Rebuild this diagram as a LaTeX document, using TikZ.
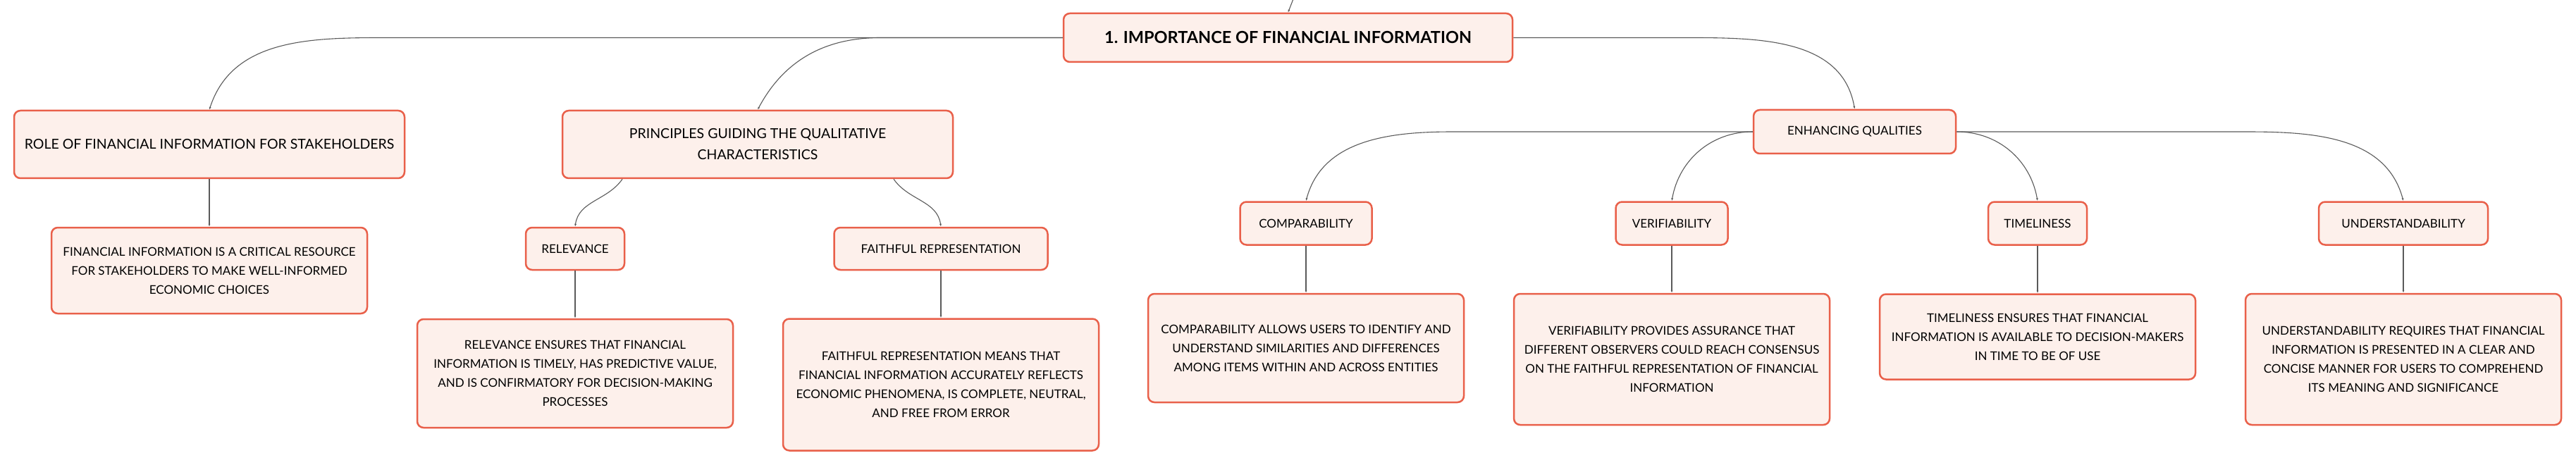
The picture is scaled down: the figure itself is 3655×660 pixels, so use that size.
\documentclass[tikz,border=0pt]{standalone}
\usepackage{fontspec}
\setmainfont{Lato}
\usetikzlibrary{arrows.meta}
\definecolor{boxline}{HTML}{E9604A}
\definecolor{boxfill}{HTML}{FDF0EB}
\definecolor{linkgray}{HTML}{5A5A5A}
\tikzset{
  topic/.style={draw=boxline, fill=boxfill, line width=2.5pt,
    rounded corners=9pt, align=center, inner sep=0pt,
    font=\fontsize{17}{27}\selectfont},
  bigtopic/.style={font=\fontsize{19.5}{30}\selectfont},
  roottopic/.style={font=\fontsize{23.5}{28}\selectfont\bfseries},
  link/.style={draw=linkgray, line width=1.1pt,
    -{Latex[length=4pt,width=3pt]}}
}
\newcommand{\topicBox}[7][]{ \node[topic, #1, minimum width=#5,
    minimum height=#6] (#2) at (#3,#4) {#7}; }

\begin{document}
\begin{tikzpicture}[x=1pt,y=-1pt]
  \useasboundingbox (0,0) rectangle (3655,660);
  % main topic
  \topicBox[roottopic]{root}{1827.5}{53.5}{637}{69}{1. IMPORTANCE OF FINANCIAL INFORMATION}
  % first branch
  \topicBox[bigtopic]{role}{297}{205}{554}{96}{ROLE OF FINANCIAL INFORMATION FOR STAKEHOLDERS}
  \topicBox{roleDesc}{297}{384}{448}{122}{FINANCIAL INFORMATION IS A CRITICAL RESOURCE\\
    FOR STAKEHOLDERS TO MAKE WELL-INFORMED\\ECONOMIC CHOICES}
  % second branch
  \topicBox[bigtopic]{principles}{1075}{205}{554}{96}{PRINCIPLES GUIDING THE QUALITATIVE\\CHARACTERISTICS}
  \topicBox{relevance}{816}{353}{140}{60}{RELEVANCE}
  \topicBox{faithful}{1335}{353}{303}{60}{FAITHFUL REPRESENTATION}
  \topicBox{relDesc}{816}{530}{448}{154}{RELEVANCE ENSURES THAT FINANCIAL\\
    INFORMATION IS TIMELY, HAS PREDICTIVE VALUE,\\AND IS CONFIRMATORY FOR DECISION-MAKING\\PROCESSES}
  \topicBox{faithDesc}{1335}{546}{448}{187}{FAITHFUL REPRESENTATION MEANS THAT\\
    FINANCIAL INFORMATION ACCURATELY REFLECTS\\ECONOMIC PHENOMENA, IS COMPLETE, NEUTRAL,\\AND FREE FROM ERROR}
  % third branch
  \topicBox{enhancing}{2631.5}{187}{287}{62}{ENHANCING QUALITIES}
  \topicBox{comparability}{1853}{317}{187}{61}{COMPARABILITY}
  \topicBox{verifiability}{2372}{317}{159}{61}{VERIFIABILITY}
  \topicBox{timeliness}{2891}{317}{140}{61}{TIMELINESS}
  \topicBox{understand}{3410}{317}{240}{61}{UNDERSTANDABILITY}
  \topicBox{compDesc}{1853}{494}{448}{154}{COMPARABILITY ALLOWS USERS TO IDENTIFY AND\\
    UNDERSTAND SIMILARITIES AND DIFFERENCES\\AMONG ITEMS WITHIN AND ACROSS ENTITIES}
  \topicBox{verDesc}{2372}{510}{448}{186}{VERIFIABILITY PROVIDES ASSURANCE THAT\\
    DIFFERENT OBSERVERS COULD REACH CONSENSUS\\ON THE FAITHFUL REPRESENTATION OF FINANCIAL\\INFORMATION}
  \topicBox{timeDesc}{2891}{478}{448}{121}{TIMELINESS ENSURES THAT FINANCIAL\\
    INFORMATION IS AVAILABLE TO DECISION-MAKERS\\IN TIME TO BE OF USE}
  \topicBox{undDesc}{3410}{510}{448}{186}{UNDERSTANDABILITY REQUIRES THAT FINANCIAL\\
    INFORMATION IS PRESENTED IN A CLEAR AND\\CONCISE MANNER FOR USERS TO COMPREHEND\\ITS MEANING AND SIGNIFICANCE}

  % links
  \coordinate (parentTip) at (1836,-4);
  \draw[link] (parentTip) -- (root.north);
  \draw[link] (root.west) -- ++(-949,0) to[out=180,in=72] (role.north);
  \draw[link] (root.west) -- ++(-259,0) to[out=180,in=62] (principles.north);
  \draw[link] (root.east) -- ++(236,0) to[out=0,in=100] (enhancing.north);
  \draw[link] (role.south) -- (roleDesc.north);
  \draw[link] ([xshift=-192]principles.south) to[out=235,in=82] (relevance.north);
  \draw[link] ([xshift=193]principles.south) to[out=-55,in=98] (faithful.north);
  \draw[link] (relevance.south) -- (relDesc.north);
  \draw[link] (faithful.south) -- (faithDesc.north);
  \draw[link] (enhancing.west) -- ++(-425,0) to[out=180,in=75] (comparability.north);
  \draw[link] (enhancing.west) to[out=180,in=80] (verifiability.north);
  \draw[link] (enhancing.east) to[out=0,in=100] (timeliness.north);
  \draw[link] (enhancing.east) -- ++(410,0) to[out=0,in=105] (understand.north);
  \draw[link] (comparability.south) -- (compDesc.north);
  \draw[link] (verifiability.south) -- (verDesc.north);
  \draw[link] (timeliness.south) -- (timeDesc.north);
  \draw[link] (understand.south) -- (undDesc.north);
\end{tikzpicture}
\end{document}
